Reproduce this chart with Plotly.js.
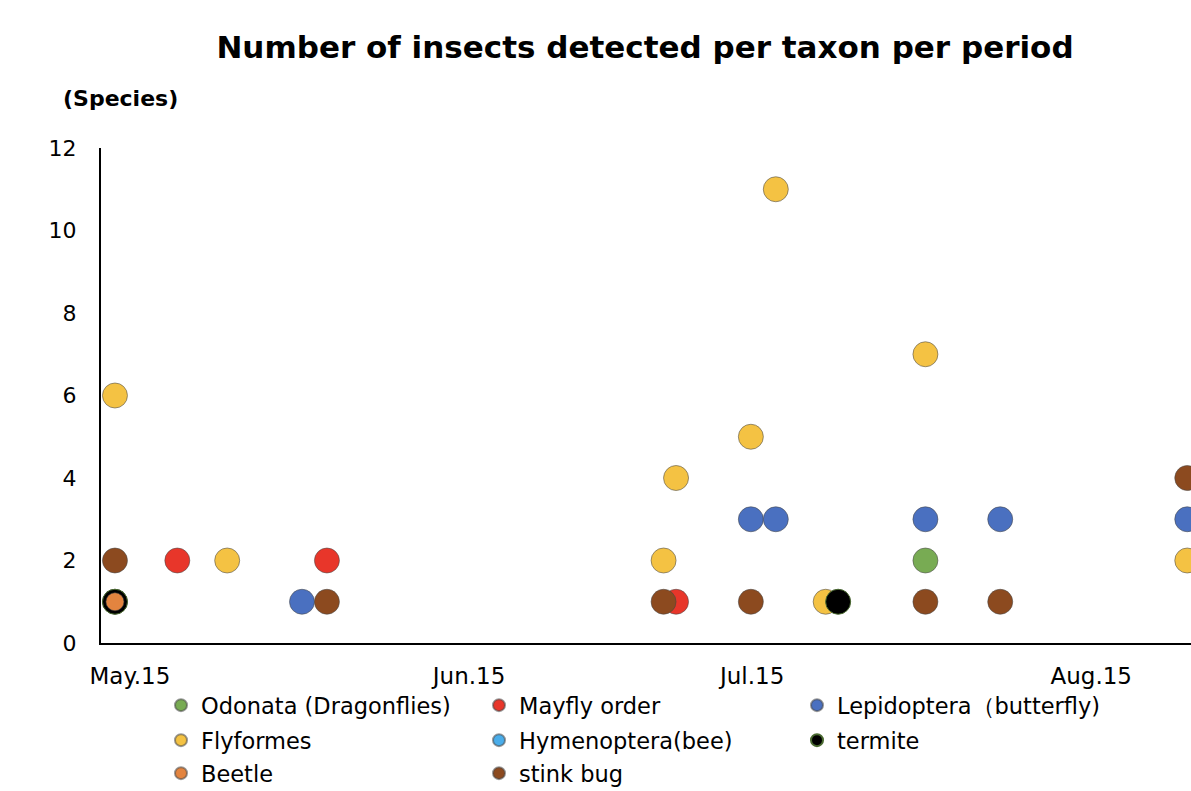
<!DOCTYPE html>
<html>
<head>
<meta charset="utf-8">
<script src="https://cdn.plot.ly/plotly-3.0.1.min.js"></script>
<style>html,body{margin:0;padding:0;background:#fff;}#chart{width:1191px;height:791px;}</style>
</head>
<body>
<div id="chart"></div>
<script>
// Sampling day index (days after first survey) and number of species detected
const tickDays = [1.2, 28.4, 51.1, 78.3];
const tickLabels = ["May.15", "Jun.15", "Jul.15", "Aug.15"];

const odonataX = [0, 65];
const odonataY = [1, 2];
const mayflyX = [5, 17, 45];
const mayflyY = [2, 2, 1];
const lepidopteraX = [15, 51, 53, 65, 71, 86];
const lepidopteraY = [1, 3, 3, 3, 3, 3];
const flyformesX = [0, 9, 44, 45, 51, 53, 57, 65, 86];
const flyformesY = [6, 2, 2, 4, 5, 11, 1, 7, 2];
const hymenopteraX = [0];
const hymenopteraY = [null];
const termiteX = [0, 58];
const termiteY = [1, 1];
const beetleX = [0];
const beetleY = [1];
const stinkbugX = [0, 17, 44, 51, 65, 71, 86];
const stinkbugY = [2, 1, 1, 1, 1, 1, 4];

const FONT = '"DejaVu Sans", Verdana, sans-serif';

function tr(name, x, y, color, legend, opts) {
  opts = opts || {};
  return {
    type: 'scatter', mode: 'markers', name: name, x: x, y: y, legend: legend,
    marker: {color: color, size: opts.size || 25,
      line: {color: opts.lineColor || 'rgba(70,70,70,0.55)', width: opts.lineWidth || 1}},
    hoverinfo: 'x+y+name'
  };
}

const data = [
  tr('Odonata (Dragonflies)', odonataX, odonataY, '#78AB53', 'legend'),
  tr('Mayfly order', mayflyX, mayflyY, '#E8362A', 'legend'),
  tr('Lepidoptera（butterfly)', lepidopteraX, lepidopteraY, '#4A70C0', 'legend'),
  tr('Flyformes', flyformesX, flyformesY, '#F4C243', 'legend2'),
  tr('Hymenoptera(bee)', hymenopteraX, hymenopteraY, '#4AADEA', 'legend2'),
  tr('termite', termiteX, termiteY, '#000000', 'legend2', {lineColor: '#4a6a30'}),
  tr('Beetle', beetleX, beetleY, '#E3843F', 'legend3', {size: 18}),
  tr('stink bug', stinkbugX, stinkbugY, '#8C4A1F', 'legend3')
];

const legendBase = {
  orientation: 'h', xref: 'container', yref: 'container', xanchor: 'left', yanchor: 'top',
  x: 161/1191, font: {family: FONT, size: 22.5, color: '#000'},
  entrywidth: 273, entrywidthmode: 'pixels', itemsizing: 'constant',
  bgcolor: 'rgba(0,0,0,0)', borderwidth: 0, traceorder: 'normal'
};

const layout = {
  width: 1191, height: 791,
  paper_bgcolor: '#fff', plot_bgcolor: '#fff',
  margin: {l: 101, r: 0, t: 148, b: 148},
  font: {family: FONT, color: '#000'},
  title: {text: '<b>Number of insects detected per taxon per period</b>',
    font: {family: FONT, size: 31, color: '#000'},
    x: 645/1191, xref: 'container', xanchor: 'center',
    y: 1 - 47/791, yref: 'container', yanchor: 'middle'},
  xaxis: {
    range: [-1.12, 86.3], showgrid: false, zeroline: false,
    showline: true, linecolor: '#000', linewidth: 2,
    tickmode: 'array', tickvals: tickDays, ticktext: tickLabels,
    ticks: 'outside', ticklen: 11, tickcolor: 'rgba(0,0,0,0)',
    tickfont: {family: FONT, size: 23, color: '#000'}
  },
  yaxis: {
    range: [0, 12], showgrid: false, zeroline: false,
    showline: true, linecolor: '#000', linewidth: 2,
    tickmode: 'array', tickvals: [0, 2, 4, 6, 8, 10, 12],
    ticks: 'outside', ticklen: 18, tickcolor: 'rgba(0,0,0,0)',
    tickfont: {family: FONT, size: 22, color: '#000'}
  },
  legend: Object.assign({}, legendBase, {y: 1 - 684/791}),
  legend2: Object.assign({}, legendBase, {y: 1 - 719/791}),
  legend3: Object.assign({}, legendBase, {y: 1 - 752/791}),
  annotations: [{
    text: '<b>(Species)</b>', xref: 'paper', yref: 'paper',
    x: (120 - 101) / 1090, y: (643 - 98) / 495,
    xanchor: 'center', yanchor: 'middle', showarrow: false,
    font: {family: FONT, size: 22, color: '#000'}
  }],
  showlegend: true
};

Plotly.newPlot('chart', data, layout, {displayModeBar: false});
</script>
</body>
</html>
